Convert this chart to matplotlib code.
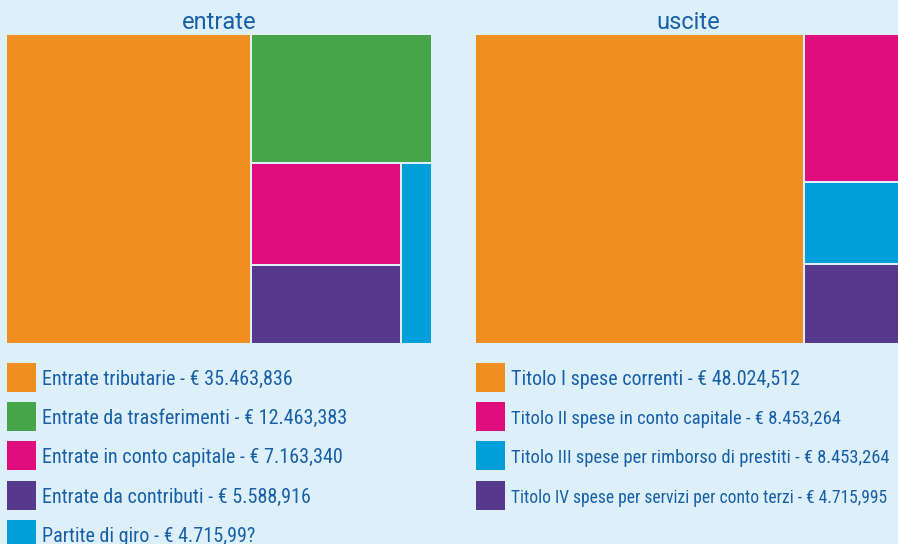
import matplotlib
matplotlib.use("Agg")
import matplotlib.pyplot as plt
from matplotlib.patches import Rectangle

# ---- data ----
entrate_labels = ["Entrate tributarie - € 35.463,836",
                  "Entrate da trasferimenti - € 12.463,383",
                  "Entrate in conto capitale - € 7.163,340",
                  "Entrate da contributi - € 5.588,916",
                  "Partite di giro - € 4.715,99?"]
# relative areas of the treemap tiles, as drawn (percent of panel)
entrate_area = [57.5, 17.6, 11.7, 9.0, 4.2]

uscite_labels = ["Titolo I spese correnti - € 48.024,512",
                 "Titolo II spese in conto capitale - € 8.453,264",
                 "Titolo III spese per rimborso di prestiti - € 8.453,264",
                 "Titolo IV spese per servizi per conto terzi - € 4.715,995"]
uscite_area = [77.4, 10.8, 6.0, 5.8]

entrate_colors = ["#EF8F22", "#46A449", "#E00D7E", "#57398B", "#009FDA"]
uscite_colors = ["#EF8F22", "#E00D7E", "#009FDA", "#57398B"]

# tile nesting (h = side by side, v = stacked)
entrate_tree = ("h", [0, ("v", [1, ("h", [("v", [2, 3]), 4])])])
uscite_tree = ("h", [0, ("v", [1, 2, 3])])

# legend text widths in the picture (px), used to fit the font size
entrate_textw = [253, 307, 302, 271, 215]
uscite_textw = [291, 331, 380, 379]

BG = "#DDEFF9"
TXT = "#1760A8"
plt.rcParams['font.family'] = ['Roboto Condensed', 'Roboto', 'DejaVu Sans']

W, H = 898, 544
fig = plt.figure(figsize=(W / 100, H / 100), dpi=100, facecolor=BG)
renderer = fig.canvas.get_renderer()


def total(node, vals):
    if isinstance(node, int):
        return vals[node]
    return sum(total(c, vals) for c in node[1])


def layout(node, vals, x, y, w, h, out):
    if isinstance(node, int):
        out[node] = (x, y, w, h)
        return
    kind, kids = node
    t = total(node, vals)
    if kind == "h":
        cx = x
        for k in kids:
            kw = w * total(k, vals) / t
            layout(k, vals, cx, y, kw, h, out)
            cx += kw
    else:  # stack from top
        cy = y + h
        for k in kids:
            kh = h * total(k, vals) / t
            layout(k, vals, x, cy - kh, w, kh, out)
            cy -= kh


def treemap(px0, px1, py0, py1, tree, vals, colors, title):
    ax = fig.add_axes([px0 / W, 1 - py1 / H, (px1 - px0) / W, (py1 - py0) / H])
    ax.set_xlim(0, 1)
    ax.set_ylim(0, 1)
    ax.axis("off")
    rects = {}
    layout(tree, vals, 0, 0, 1, 1, rects)
    gx = 1.0 / (px1 - px0)
    gy = 1.0 / (py1 - py0)
    eps = 1e-9
    for i, (x, y, w, h) in rects.items():
        x0, x1, y0, y1 = x, x + w, y, y + h
        if x0 > eps:
            x0 += gx
        if x1 < 1 - eps:
            x1 -= gx
        if y0 > eps:
            y0 += gy
        if y1 < 1 - eps:
            y1 -= gy
        ax.add_patch(Rectangle((x0, y0), x1 - x0, y1 - y0, facecolor=colors[i],
                               edgecolor="none", lw=0))
    fig.text(((px0 + px1) / 2) / W, 1 - 29 / H, title, ha="center", va="baseline",
             color=TXT, fontsize=17, family=['Roboto', 'DejaVu Sans'])
    return ax


treemap(7, 431, 35, 343, entrate_tree, entrate_area, entrate_colors, "entrate")
treemap(476, 900, 35, 343, uscite_tree, uscite_area, uscite_colors, "uscite")

# legends
lax = fig.add_axes([0, 0, 1, 1])
lax.set_xlim(0, W)
lax.set_ylim(H, 0)
lax.axis("off")
lax.patch.set_alpha(0)


def legend(x, labels, colors, widths):
    y = 377.5
    for lab, c, tw in zip(labels, colors, widths):
        lax.add_patch(Rectangle((x, y - 14.5), 29, 29, facecolor=c, edgecolor="none"))
        t = lax.text(x + 35, y + 7.5, lab, ha="left", va="baseline", color=TXT, fontsize=14)
        w0 = t.get_window_extent(renderer).width
        t.set_fontsize(14 * tw / w0)
        y += 39.2


legend(7, entrate_labels, entrate_colors, entrate_textw)
legend(476, uscite_labels, uscite_colors, uscite_textw)

fig.savefig("out.png", dpi=100, facecolor=BG)
